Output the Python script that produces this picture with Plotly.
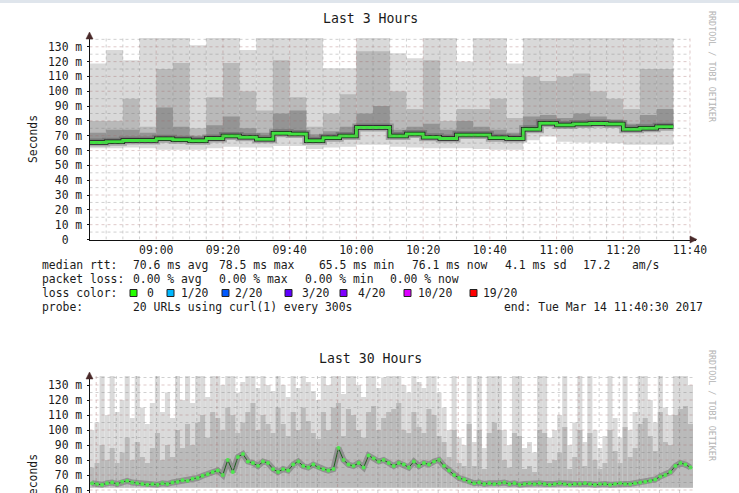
import plotly.graph_objects as go
import pandas as pd

W, H = 739, 493
FONT = "DejaVu Sans Mono"

# ---------------- data: Last 3 Hours (5-minute steps from 08:40) ----------------
median_3h = [65.5, 65.9, 66.8, 66.8, 67.9, 67.3, 66.6, 68.2, 69.8, 68.9,
             67.7, 71.6, 71.1, 66.6, 68.7, 69.8, 75.6, 75.6, 69.8, 71.1,
             68.9, 68.2, 70.5, 70.5, 68.7, 68.2, 74.3, 78.5, 77.2, 77.9,
             78.3, 77.9, 74.3, 75.0, 76.1]
min_3h = [61.5, 61.5, 62.0, 61.5, 60.5, 60.5, 60.5, 61.5, 62.5, 62.0,
          62.0, 63.0, 63.0, 61.0, 62.0, 62.5, 64.0, 64.0, 62.5, 62.0,
          61.5, 61.5, 61.5, 61.0, 60.5, 60.5, 67.0, 69.5, 66.0, 65.5,
          65.5, 65.0, 64.0, 64.0, 64.0]
max_3h = [118.8, 127.8, 121.0, 136, 136, 136, 131.0, 136, 136, 127.8,
          136, 136, 136, 136, 115.6, 115.6, 136, 136, 125.6, 122.2,
          136, 136, 120.0, 136, 136, 118.8, 136, 136, 136, 136,
          136, 136, 136, 136, 136]
mid_3h = [80, 80, 95, 76, 115, 119, 75, 96, 119, 100,
          87, 121, 96, 76, 85, 98, 127, 127, 100, 88,
          121, 80, 88, 88, 95, 82, 110, 107, 110, 112,
          100, 95, 88, 115, 115]
dark_3h = [72, 74, 74, 72, 89, 76, 70, 77, 83, 75,
           72, 85, 87, 71, 73, 76, 85, 90, 74, 76,
           78, 74, 80, 76, 74, 72, 83, 84, 82, 85,
           83, 81, 78, 84, 88]

y_ticks_3h = [0, 10, 20, 30, 40, 50, 60, 70, 80, 90, 100, 110, 120, 130]
y_ticklabels_3h = ["0\u00a0\u00a0", "10 m", "20 m", "30 m", "40 m", "50 m", "60 m",
                   "70 m", "80 m", "90 m", "100 m", "110 m", "120 m", "130 m"]
x_ticklabels_3h = ["09:00", "09:20", "09:40", "10:00", "10:20", "10:40",
                   "11:00", "11:20", "11:40"]

# ---------------- data: Last 30 Hours (15-minute steps from 05:40) ----------------
median_30h = [64.5, 64.0, 63.5, 64.5, 65.0, 64.0, 65.5, 66.0, 65.0, 64.5,
              64.0, 63.5, 64.0, 63.5, 64.5, 64.0, 65.0, 65.5, 66.5, 66.0,
              67.5, 68.0, 69.5, 70.5, 72.0, 73.0, 70.0, 80.0, 72.0, 82.0,
              84.0, 79.0, 78.0, 76.0, 79.0, 78.0, 74.0, 72.0, 74.0, 73.0,
              77.0, 79.0, 76.0, 75.0, 77.0, 75.0, 74.0, 73.0, 74.0, 88.0,
              80.0, 77.0, 76.0, 78.0, 75.0, 83.0, 81.0, 79.0, 80.0, 78.0,
              76.0, 78.0, 77.0, 75.0, 79.0, 76.0, 78.0, 77.0, 79.0, 80.0,
              76.0, 73.0, 70.0, 68.0, 67.0, 65.5, 64.5, 65.0, 64.0, 64.5,
              64.0, 64.5, 65.0, 64.0, 64.5, 63.5, 64.0, 64.5, 64.0, 64.5,
              64.0, 63.5, 64.0, 64.5, 64.0, 63.5, 64.0, 64.0, 64.5, 64.0,
              63.5, 64.0, 64.0, 63.5, 64.0, 64.5, 64.0, 64.0, 64.5, 65.0,
              65.5, 66.0, 67.0, 69.0, 70.0, 72.0, 76.0, 78.0, 77.0, 75.0]
max_30h = [100, 105, 136, 110, 136, 112, 120, 136, 108, 136,
           115, 104, 118, 136, 112, 125, 108, 136, 120, 136,
           118, 136, 136, 122, 136, 136, 130, 136, 136, 125,
           132, 136, 136, 128, 136, 130, 126, 136, 130, 122,
           136, 128, 136, 132, 126, 120, 136, 130, 136, 136,
           124, 136, 136, 130, 122, 136, 136, 128, 135, 136,
           136, 136, 130, 125, 136, 132, 128, 136, 136, 125,
           115, 100, 136, 95, 90, 136, 92, 136, 88, 136,
           136, 136, 100, 90, 136, 136, 88, 92, 85, 136,
           136, 95, 100, 110, 136, 90, 105, 136, 92, 136,
           100, 88, 96, 136, 108, 95, 136, 100, 112, 136,
           136, 120, 105, 136, 115, 110, 136, 136, 136, 130]
mid_30h = [75, 78, 90, 80, 88, 78, 85, 95, 80, 92,
           82, 78, 88, 98, 80, 90, 82, 100, 88, 104,
           90, 105, 110, 95, 112, 108, 100, 115, 110, 98,
           105, 112, 118, 100, 110, 104, 98, 115, 104, 96,
           112, 100, 115, 106, 98, 94, 112, 100, 115, 118,
           96, 114, 110, 100, 95, 112, 116, 100, 108, 112,
           114, 118, 100, 98, 112, 102, 98, 114, 110, 96,
           92, 82, 100, 78, 76, 104, 76, 100, 74, 98,
           105, 100, 80, 75, 98, 96, 74, 76, 72, 100,
           98, 78, 80, 85, 102, 74, 82, 100, 76, 98,
           80, 74, 78, 100, 86, 78, 102, 82, 88, 104,
           108, 96, 86, 112, 92, 90, 110, 114, 116, 104]
FLOOR_30H = 61.5
y_ticks_30h = [60, 70, 80, 90, 100, 110, 120, 130]
y_ticklabels_30h = ["60 m", "70 m", "80 m", "90 m", "100 m", "110 m", "120 m", "130 m"]

# ---------------- legend texts ----------------
stats_rtt = [("median rtt:", 40), ("70.6 ms avg", 130.7), ("78.5 ms max", 216.7),
             ("65.5 ms min", 316.5), ("76.1 ms now", 410), ("4.1 ms sd", 502.7),
             ("17.2", 580.7), ("am/s", 630)]
stats_loss = [("packet loss:", 40), ("0.00 % avg", 130.7), ("0.00 % max", 216.7),
              ("0.00 % min", 303), ("0.00 % now", 388.3)]
loss_labels = ["0", "1/20", "2/20", "3/20", "4/20", "10/20", "19/20"]
loss_colors = ["#26ff00", "#00b8ff", "#0059ff", "#5e00ff", "#7e00ff", "#dd00ff", "#ff0000"]
loss_square_x = [130, 167, 222, 285, 340, 404, 470]
loss_text_x = [145, 179, 233, 300, 356, 416, 481]
probe_items = [("probe:", 40), ("20 URLs using curl(1) every 300s", 130.7),
               ("end: Tue Mar 14 11:40:30 2017", 501.7)]


def px_x(px):
    return px / W


def px_y(py):
    return 1 - py / H


fig = go.Figure()


def add_band(x, lo, hi, color, xa, ya, width_ms):
    base = lo if isinstance(lo, list) else [lo] * len(hi)
    fig.add_trace(go.Bar(x=x, y=[h - b for b, h in zip(base, hi)], base=base,
                         width=width_ms, marker=dict(color=color, line=dict(width=0)),
                         xaxis=xa, yaxis=ya, hoverinfo="skip", showlegend=False))


# ---- top chart ----
t0 = pd.Timestamp("2017-03-14 08:40")
st3 = pd.Timedelta(minutes=5)
n3 = len(median_3h)
centers3 = [t0 + st3 * i + st3 / 2 for i in range(n3)]
edges3 = [t0 + st3 * i for i in range(n3 + 1)]
add_band(centers3, min_3h, max_3h, "#d9d9d9", "x", "y", 300000)
add_band(centers3, median_3h, mid_3h, "#b9b9b9", "x", "y", 300000)
add_band(centers3, median_3h, dark_3h, "#949494", "x", "y", 300000)
med_step = median_3h + [median_3h[-1]]
for col, w in [("rgba(70,70,70,0.35)", 8), ("#1a1a1a", 4.5), ("#3fe23f", 3)]:
    fig.add_trace(go.Scatter(x=edges3, y=med_step, mode="lines", line_shape="hv",
                             line=dict(color=col, width=w), xaxis="x", yaxis="y",
                             hoverinfo="skip", showlegend=False))

# ---- bottom chart ----
t0b = pd.Timestamp("2017-03-13 05:40")
st30 = pd.Timedelta(minutes=15)
n30 = len(median_30h)
centers30 = [t0b + st30 * i + st30 / 2 for i in range(n30)]
add_band(centers30, FLOOR_30H, max_30h, "#dadada", "x2", "y2", 900000)
add_band(centers30, FLOOR_30H, mid_30h, "#bababa", "x2", "y2", 900000)
fig.add_trace(go.Scatter(x=centers30, y=median_30h, mode="lines",
                         line=dict(color="rgba(50,50,50,0.3)", width=6),
                         xaxis="x2", yaxis="y2", hoverinfo="skip", showlegend=False))
fig.add_trace(go.Scatter(x=centers30, y=median_30h, mode="lines+markers",
                         line=dict(color="#1f5f1f", width=1),
                         marker=dict(color="#4ee84e", size=4),
                         xaxis="x2", yaxis="y2", hoverinfo="skip", showlegend=False))

# ---- grid shapes (drawn over the smoke, like rrdtool) ----
shapes = []
MINOR = "rgba(120,120,120,0.35)"
MAJOR = "rgba(160,100,100,0.35)"
end3 = t0 + pd.Timedelta(minutes=180)
for m in range(5, 181, 5):
    xv = str(t0 + pd.Timedelta(minutes=m))
    shapes.append(dict(type="line", xref="x", yref="y", x0=xv, x1=xv, y0=0, y1=136.5,
                       line=dict(color=MAJOR if m % 20 == 0 else MINOR, width=1, dash="dot"),
                       layer="above"))
for v in range(5, 136, 5):
    shapes.append(dict(type="line", xref="x", yref="y", x0=str(t0), x1=str(end3), y0=v, y1=v,
                       line=dict(color=MAJOR if v % 10 == 0 else MINOR, width=1, dash="dot"),
                       layer="above"))
end30 = t0b + pd.Timedelta(hours=30)
for hh in range(1, 31):
    tv = pd.Timestamp("2017-03-13 05:00") + pd.Timedelta(hours=hh)
    xv = str(tv)
    shapes.append(dict(type="line", xref="x2", yref="y2", x0=xv, x1=xv, y0=58, y1=136.5,
                       line=dict(color=MAJOR if tv.hour % 6 == 0 else MINOR, width=1, dash="dot"),
                       layer="above"))
for v in range(60, 136, 5):
    shapes.append(dict(type="line", xref="x2", yref="y2", x0=str(t0b), x1=str(end30), y0=v, y1=v,
                       line=dict(color=MAJOR if v % 10 == 0 else MINOR, width=1, dash="dot"),
                       layer="above"))


def tri(points, color):
    d = "M " + " L ".join(f"{px_x(a):.5f},{px_y(b):.5f}" for a, b in points) + " Z"
    return dict(type="path", xref="paper", yref="paper", path=d,
                fillcolor=color, line=dict(color=color, width=0.5), layer="above")


ARROW = "#4a2a2a"
shapes.append(tri([(89.5, 32), (86, 39), (93, 39)], ARROW))
shapes.append(tri([(697, 239.5), (690, 236), (690, 243)], ARROW))
shapes.append(tri([(89.5, 372), (86, 379), (93, 379)], ARROW))
# browser frame strip at the very top
shapes.append(dict(type="rect", xref="paper", yref="paper", x0=0, x1=1,
                   y0=px_y(3), y1=1, fillcolor="#dfe5ec", line=dict(width=0)))

# loss colour squares
for sx, c in zip(loss_square_x, loss_colors):
    shapes.append(dict(type="rect", xref="paper", yref="paper",
                       x0=px_x(sx), x1=px_x(sx + 7), y0=px_y(296.5), y1=px_y(289.5),
                       fillcolor=c, line=dict(color="#222222", width=1)))

# ---- annotations ----
ann = []


def txt(s, x, y, size=11.4, color="#1a1a1a", anchor="left", angle=0):
    ann.append(dict(text=s, x=px_x(x), y=px_y(y), xref="paper", yref="paper",
                    showarrow=False, xanchor=anchor, yanchor="middle", textangle=angle,
                    font=dict(family=FONT, size=size, color=color)))


txt("Last 3 Hours", 370, 19, size=13.2, anchor="center")
txt("Last 30 Hours", 370, 358, size=13.2, anchor="center")
txt("Seconds", 33, 139, size=11.4, anchor="center", angle=-90)
txt("Seconds", 33, 478, size=11.4, anchor="center", angle=-90)
txt("RRDTOOL / TOBI OETIKER", 712, 67, size=8.4, color="#b4b4b4", anchor="center", angle=90)
txt("RRDTOOL / TOBI OETIKER", 712, 406, size=8.4, color="#b4b4b4", anchor="center", angle=90)
for s, x in stats_rtt:
    txt(s, x, 265)
for s, x in stats_loss:
    txt(s, x, 279)
txt("loss color:", 40, 293)
for s, x in zip(loss_labels, loss_text_x):
    txt(s, x, 293)
for s, x in probe_items:
    txt(s, x, 307)

tickfont = dict(family=FONT, size=11.4, color="#1a1a1a")
fig.update_layout(
    width=W, height=H, margin=dict(l=0, r=0, t=0, b=0),
    paper_bgcolor="white", plot_bgcolor="white",
    barmode="overlay", showlegend=False,
    shapes=shapes, annotations=ann,
    xaxis=dict(domain=[px_x(89.5), px_x(696)], type="date",
               range=[t0, t0 + pd.Timedelta(minutes=181.8)],
               tickvals=[pd.Timestamp("2017-03-14 " + s) for s in x_ticklabels_3h],
               ticktext=x_ticklabels_3h, tickfont=tickfont,
               showgrid=False, zeroline=False, showline=True, linecolor="#111", linewidth=1,
               ticks="", anchor="y", fixedrange=True, automargin=False,
               ticklabeloverflow="allow"),
    yaxis=dict(domain=[px_y(239.5), px_y(33)], range=[0, 139.3],
               tickvals=y_ticks_3h, ticktext=y_ticklabels_3h, tickfont=tickfont,
               showgrid=False, zeroline=False, showline=True, linecolor="#111", linewidth=1,
               ticks="outside", ticklen=2, tickcolor="#111", ticklabelstandoff=2, anchor="x",
               fixedrange=True, automargin=False, ticklabeloverflow="allow"),
    xaxis2=dict(domain=[px_x(89.5), px_x(696)], type="date",
                range=[t0b, t0b + pd.Timedelta(hours=30.15)],
                showticklabels=False, showgrid=False, zeroline=False, showline=False,
                anchor="y2", fixedrange=True, automargin=False),
    yaxis2=dict(domain=[0, px_y(373)], range=[58, 138.0],
                tickvals=y_ticks_30h, ticktext=y_ticklabels_30h, tickfont=tickfont,
                showgrid=False, zeroline=False, showline=True, linecolor="#111", linewidth=1,
                ticks="outside", ticklen=2, tickcolor="#111", ticklabelstandoff=2, anchor="x2",
                fixedrange=True, automargin=False, ticklabeloverflow="allow"),
)

fig.write_html("out.html", config={"displayModeBar": False},
               post_script="document.body.style.margin='0px';document.body.style.overflow='hidden';")
